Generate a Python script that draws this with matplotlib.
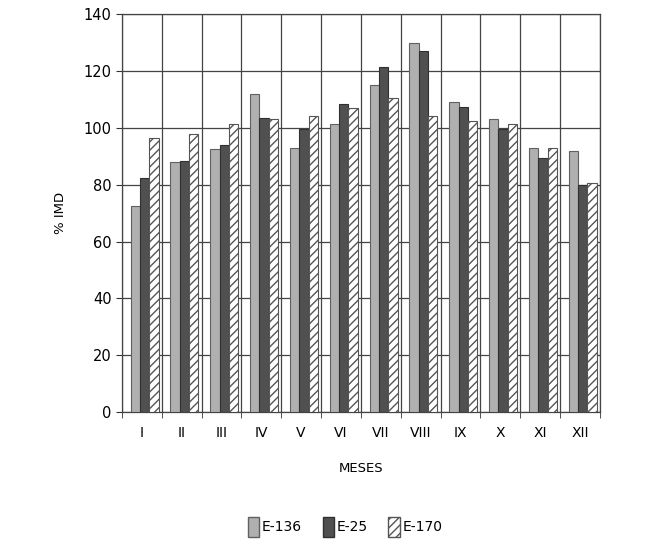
import numpy as np
import matplotlib
matplotlib.use("Agg")
import matplotlib.pyplot as plt
from matplotlib.patches import Patch

months = ["I", "II", "III", "IV", "V", "VI", "VII", "VIII", "IX", "X", "XI", "XII"]
e136 = [72.5, 88, 92.5, 112, 93, 101.5, 115, 130, 109, 103, 93, 92]
e25 = [82.5, 88.5, 94, 103.5, 99.5, 108.5, 121.5, 127, 107.5, 99.5, 89.5, 80]
e170 = [96.5, 98, 101.5, 103, 104, 107, 110.5, 104, 102.5, 101.5, 93, 80.5]
series_names = ["E-136", "E-25", "E-170"]

plt.rcParams['font.family'] = ['DejaVu Sans']
plt.rcParams['hatch.color'] = '#555555'
plt.rcParams['hatch.linewidth'] = 1.0

fig = plt.figure(figsize=(6.45, 5.46), dpi=100)
ax = fig.add_axes([0.189, 0.2454, 0.741, 0.7286])

x = np.arange(len(months))
w = 0.235
off = 0.07
ax.bar(x - w + off, e136, w, color='#b0b0b0', edgecolor='#606060', linewidth=0.8, zorder=3)
ax.bar(x + off, e25, w, color='#505050', edgecolor='#303030', linewidth=0.8, zorder=3)
ax.bar(x + w + off, e170, w, color='white', edgecolor='#555555', hatch='////', linewidth=0.8, zorder=3)

ax.set_xlim(-0.5, len(months) - 0.5)
ax.set_ylim(0, 140)
ax.set_yticks(np.arange(0, 141, 20))
ax.set_xticks(x)
ax.set_xticklabels(months, fontsize=10)
ax.set_xticks(np.arange(-0.5, len(months), 1), minor=True)
ax.tick_params(axis='x', which='major', length=0, pad=10)
ax.tick_params(axis='x', which='minor', length=4, direction='out', color='#333333')
ax.tick_params(axis='y', labelsize=10.5, length=4, direction='out', color='#333333')

ax.grid(True, axis='y', which='major', color='#444444', linewidth=0.9, zorder=0)
ax.grid(True, axis='x', which='minor', color='#444444', linewidth=0.9, zorder=0)
for s in ax.spines.values():
    s.set_color('#444444')
    s.set_linewidth(0.9)

ax.set_ylabel("% IMD", fontsize=9.5, labelpad=12)
ax.set_xlabel("MESES", fontsize=9.5, labelpad=16)

handles = [Patch(facecolor='#b0b0b0', edgecolor='#606060'),
           Patch(facecolor='#505050', edgecolor='#303030'),
           Patch(facecolor='white', edgecolor='#555555', hatch='////')]
fig.legend(handles, series_names, loc='center', bbox_to_anchor=(0.535, 0.035), ncol=3,
           frameon=False, handlelength=0.8, handleheight=1.9, handletextpad=0.2,
           columnspacing=1.5, fontsize=10)

fig.savefig("out.png", dpi=100)
